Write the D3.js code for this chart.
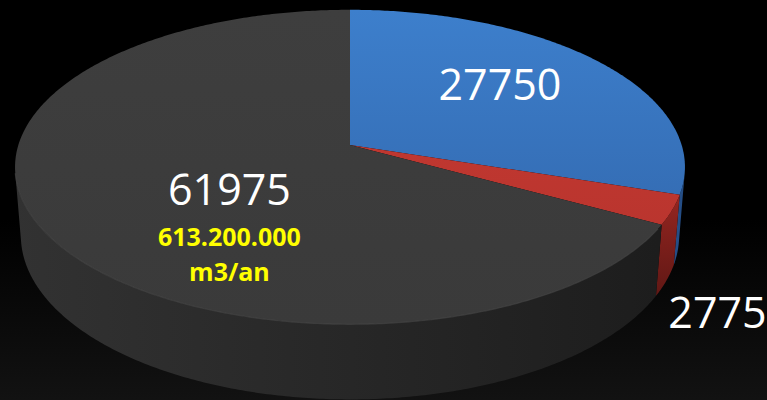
<!DOCTYPE html>
<html>
<head>
<meta charset="utf-8">
<script src="https://cdn.jsdelivr.net/npm/d3@7.9.0/dist/d3.min.js"></script>
<style>
  html, body { margin: 0; padding: 0; background: #000; overflow: hidden; }
  text { font-family: "Open Sans", "Noto Sans", sans-serif; }
</style>
</head>
<body>
<svg id="chart" width="767" height="400"></svg>
<script>
// slice values, clockwise from 12 o'clock
const values = [27750, 2775, 61975];
const labels = ["27750", "2775", "61975"];
const noteLines = ["613.200.000", "m3/an"];

const topColors = [["#3d7fcc", "#2f62a6"], ["#c93b33", "#b3322c"], ["#3e3e3e", "#3a3a3a"]];
const sideColors = [["#2f62a6", "#244d85"], ["#982621", "#5e1714"], ["#323232", "#1c1c1c"]];

const W = 767, H = 400;
const svg = d3.select("#chart");

// simple perspective camera looking down at a unit disc
const cam = { F: 2096, D: 6.32, alpha: 27.7 * Math.PI / 180, cx: 350, cy: 145, t: 0.235 };
const sa = Math.sin(cam.alpha), ca = Math.cos(cam.alpha);

function project(a, r, h) {
  const x = r * Math.sin(a), z = r * Math.cos(a), y = h;
  const depth = -y * sa + cam.D + z * ca;
  return [cam.cx + cam.F * x / depth, cam.cy - cam.F * (y * ca + z * sa) / depth];
}

const arcs = d3.pie().sort(null)(values);
const line = d3.line();

function arcPoints(a0, a1, r, h) {
  const n = Math.max(2, Math.ceil(Math.abs(a1 - a0) / 0.01));
  return d3.range(n + 1).map(i => project(a0 + (a1 - a0) * i / n, r, h));
}

const defs = svg.append("defs");
const bg = defs.append("linearGradient").attr("id", "bg").attr("x1", 0).attr("y1", 0).attr("x2", 0).attr("y2", 1);
bg.append("stop").attr("offset", "0%").attr("stop-color", "#000");
bg.append("stop").attr("offset", "55%").attr("stop-color", "#000");
bg.append("stop").attr("offset", "100%").attr("stop-color", "#121212");
svg.append("rect").attr("width", W).attr("height", H).attr("fill", "url(#bg)");

topColors.forEach((c, i) => {
  const g = defs.append("linearGradient").attr("id", "top" + i)
    .attr("gradientUnits", "userSpaceOnUse").attr("x1", 0).attr("y1", 10).attr("x2", 0).attr("y2", 325);
  g.append("stop").attr("offset", "0%").attr("stop-color", c[0]);
  g.append("stop").attr("offset", "100%").attr("stop-color", c[1]);
});
sideColors.forEach((c, i) => {
  const g = defs.append("linearGradient").attr("id", "side" + i)
    .attr("gradientUnits", "userSpaceOnUse").attr("x1", 12).attr("y1", 0).attr("x2", 690).attr("y2", 0);
  g.append("stop").attr("offset", "0%").attr("stop-color", c[0]);
  g.append("stop").attr("offset", "100%").attr("stop-color", c[1]);
});
// red side runs down, so shade it vertically
const rs = defs.append("linearGradient").attr("id", "side1v")
  .attr("gradientUnits", "userSpaceOnUse").attr("x1", 0).attr("y1", 190).attr("x2", 0).attr("y2", 300);
rs.append("stop").attr("offset", "0%").attr("stop-color", sideColors[1][0]);
rs.append("stop").attr("offset", "100%").attr("stop-color", sideColors[1][1]);

// visible part of the wall
const aVis = Math.acos(-1 / (cam.D * ca));
const vis0 = aVis, vis1 = 2 * Math.PI - aVis;

const sides = svg.append("g");
arcs.forEach((d, i) => {
  const a0 = Math.max(d.startAngle, vis0), a1 = Math.min(d.endAngle, vis1);
  if (a1 <= a0) return;
  const pts = arcPoints(a0, a1, 1, 0).concat(arcPoints(a1, a0, 1, -cam.t));
  sides.append("path")
    .attr("d", line(pts) + "Z")
    .attr("fill", i === 1 ? "url(#side1v)" : `url(#side${i})`);
});

const tops = svg.append("g");
arcs.forEach((d, i) => {
  const pts = [project(0, 0, 0)].concat(arcPoints(d.startAngle, d.endAngle, 1, 0));
  tops.append("path")
    .attr("d", line(pts) + "Z")
    .attr("fill", `url(#top${i})`);
});

// faint bevel on the front rim
svg.append("path")
  .attr("d", line(arcPoints(vis0 + 0.35, vis1, 1, 0)))
  .attr("fill", "none")
  .attr("stroke", "#4a4a4a")
  .attr("stroke-width", 1.2)
  .attr("opacity", 0.6);

// labels
const mid = d => (d.startAngle + d.endAngle) / 2;
const fs = 43;

const pBlue = project(mid(arcs[0]), 0.59, 0);
svg.append("text").attr("x", pBlue[0] - 1).attr("y", pBlue[1] + 6)
  .attr("text-anchor", "middle").attr("font-size", fs).attr("fill", "#fff").text(labels[0]);

const pRed = project(mid(arcs[1]), 1, -cam.t);
svg.append("text").attr("x", pRed[0] + 51).attr("y", pRed[1] + 48)
  .attr("text-anchor", "middle").attr("font-size", fs).attr("fill", "#fff").text(labels[1]);

const pGray = project(mid(arcs[2]), 0.41, 0);
svg.append("text").attr("x", pGray[0]).attr("y", pGray[1] + 27)
  .attr("text-anchor", "middle").attr("font-size", fs).attr("fill", "#fff").text(labels[2]);
noteLines.forEach((t, i) => {
  svg.append("text").attr("x", pGray[0]).attr("y", pGray[1] + 68 + i * 35)
    .attr("text-anchor", "middle").attr("font-size", 25).attr("font-weight", "bold")
    .attr("fill", "#ffff00").text(t);
});
</script>
</body>
</html>
